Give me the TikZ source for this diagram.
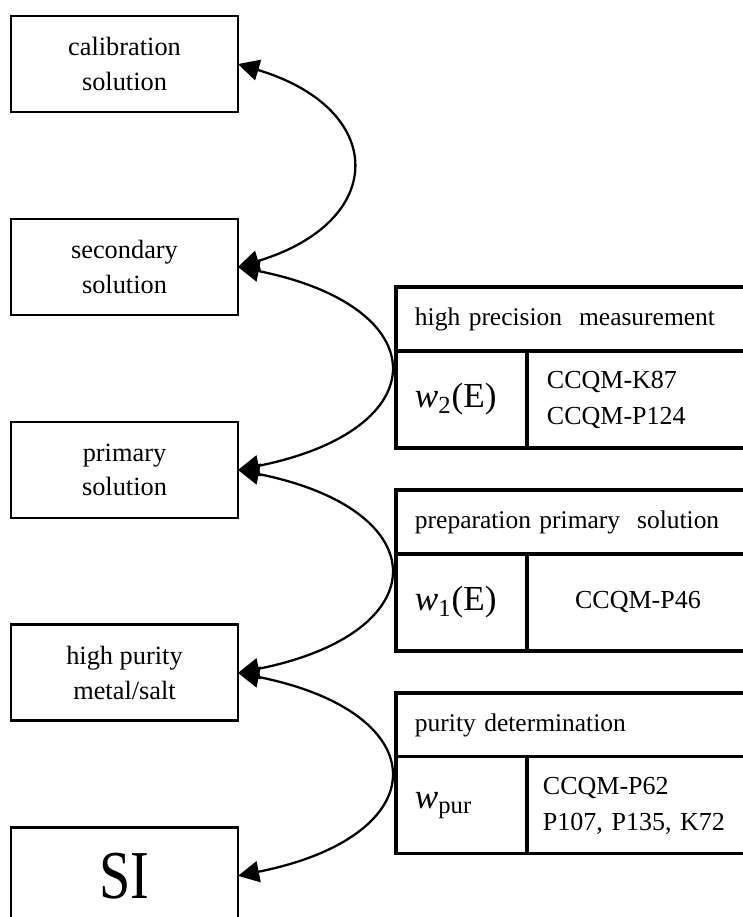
\documentclass[tikz,border=0pt]{standalone}
\usepackage{fontspec}
\setmainfont{Liberation Serif}
\usetikzlibrary{positioning,arrows.meta}

\tikzset{
  stagebox/.style={draw, line width=1.6pt, outer sep=0pt, minimum width=4.54cm,
    minimum height=1.92cm, align=center, font=\fontsize{15}{19.5}\selectfont},
  linkarrow/.style={{Triangle[length=12pt,width=12pt]}-{Triangle[length=12pt,width=12pt]},
    line width=1.3pt},
  headcell/.style={draw, line width=1.8pt, outer sep=0pt, minimum width=7.06cm,
    minimum height=1.28cm, inner xsep=0.38cm, text width=6.3cm, align=left,
    font=\fontsize{14.5}{19.5}\selectfont},
  wcell/.style={draw, line width=1.8pt, outer sep=0pt, minimum width=2.62cm,
    minimum height=1.94cm, inner xsep=0.38cm, text width=1.86cm, align=left,
    font=\fontsize{20}{22}\selectfont},
  refcell/.style={draw, line width=1.8pt, outer sep=0pt, minimum width=4.44cm,
    minimum height=1.94cm, inner xsep=0.4cm, text width=4.2cm, align=left,
    font=\fontsize{14.8}{20.5}\selectfont},
}

\begin{document}
\begin{tikzpicture}[x=0.02cm, y=0.02cm]
  \useasboundingbox (0,0) rectangle (743,-917);

  % traceability chain
  \node[stagebox] (cal) at (124.5,-64) {calibration\\solution};
  \node[stagebox, below=2.14cm of cal] (sec) {secondary\\solution};
  \node[stagebox, below=2.14cm of sec] (pri) {primary\\solution};
  \node[stagebox, below=2.14cm of pri] (hps) {high purity\\metal/salt};
  \node[stagebox, below=2.14cm of hps, font=\fontsize{39}{44}\selectfont] (si) {\scalebox{0.82}[1]{SI}};

  \draw[linkarrow] (cal.east) .. controls +(150,-45) and +(150,45) .. (sec.east);
  \draw[linkarrow] (sec.east) .. controls +(200,-40) and +(200,40) .. (pri.east);
  \draw[linkarrow] (pri.east) .. controls +(200,-40) and +(200,40) .. (hps.east);
  \draw[linkarrow] (hps.east) .. controls +(200,-40) and +(200,40) .. (si.east);

  % measurement tables
  \node[headcell, anchor=north west] (hpm) at (396,-287) {high precision\ \ measurement};
  \node[wcell, anchor=north west] (hpmw) at (hpm.south west) {\textit{w}\textsubscript{2}(E)};
  \node[refcell, anchor=north west] (hpmref) at (hpmw.north east) {CCQM-K87\\CCQM-P124};

  \node[headcell, below=0.84cm of hpmw.south west, anchor=north west] (pps) {preparation primary\ \ solution};
  \node[wcell, anchor=north west] (ppsw) at (pps.south west) {\textit{w}\textsubscript{1}(E)};
  \node[refcell, anchor=north west, text width=3.64cm, align=center] (ppsref) at (ppsw.north east) {CCQM-P46};

  \node[headcell, below=0.84cm of ppsw.south west, anchor=north west] (pd) {purity determination};
  \node[wcell, anchor=north west] (pdw) at (pd.south west) {\textit{w}\textsubscript{pur}};
  \node[refcell, anchor=north west, inner xsep=0.32cm] (pdref) at (pdw.north east) {CCQM-P62\\P107, P135, K72};
\end{tikzpicture}
\end{document}
